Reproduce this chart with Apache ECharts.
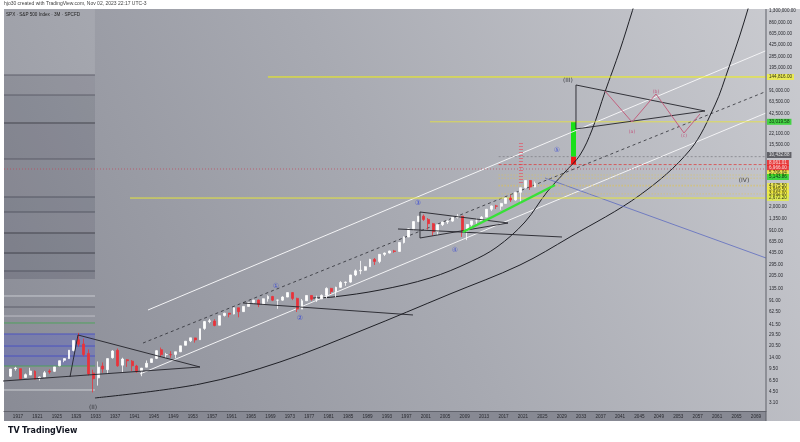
<!DOCTYPE html>
<html><head><meta charset="utf-8">
<script src="https://cdn.jsdelivr.net/npm/echarts@6/dist/echarts.min.js"></script>
<style>html,body{margin:0;padding:0;background:#fff}#c{width:800px;height:442px}</style>
</head><body><div id="c"></div>
<script>
// ---------- data ----------
const candleYears = [1915,1916,1917,1918,1919,1920,1921,1922,1923,1924,1925,1926,1927,1928,1929,1930,1931,1932,1933,1934,1935,1936,1937,1938,1939,1940,1941,1942,1943,1944,1945,1946,1947,1948,1949,1950,1951,1952,1953,1954,1955,1956,1957,1958,1959,1960,1961,1962,1963,1964,1965,1966,1967,1968,1969,1970,1971,1972,1973,1974,1975,1976,1977,1978,1979,1980,1981,1982,1983,1984,1985,1986,1987,1988,1989,1990,1991,1992,1993,1994,1995,1996,1997,1998,1999,2000,2001,2002,2003,2004,2005,2006,2007,2008,2009,2010,2011,2012,2013,2014,2015,2016,2017,2018,2019,2020,2021,2022,2023];
const opens = [7.5,9.6,9.6,7.2,7.8,8.8,7.1,7.3,8.9,8.8,10.6,12.7,13.4,17.5,24.9,21.7,15.9,8.3,7.1,10.5,9.3,13.8,17.6,10.8,12.9,12.3,10.5,8.9,10.1,11.8,13.5,18.0,15.2,15.3,15.4,16.8,20.8,24.1,26.5,25.0,36.3,45.5,46.2,40.3,55.6,59.9,58.4,71.6,63.1,75.0,84.8,92.4,80.3,96.5,103.9,92.1,92.2,102.1,118.1,97.6,68.6,90.2,107.5,95.1,96.1,107.9,135.8,122.6,140.6,164.9,167.2,211.3,242.2,247.1,277.7,353.4,330.2,417.1,435.7,466.5,459.3,615.9,740.7,970.4,1229.2,1469.3,1320.3,1148.1,879.8,1111.9,1211.9,1248.3,1418.3,1468.4,903.3,1115.1,1257.6,1257.6,1426.2,1848.4,2058.9,2043.9,2238.8,2673.6,2506.8,3230.8,3756.1,4766.2,3839.5];
const closes = [9.5,9.8,6.8,7.9,8.9,6.8,7.3,8.4,8.6,10.2,12.5,13.4,17.7,24.4,21.5,15.3,8.1,6.9,10.1,9.5,13.4,17.2,10.6,13.2,12.5,10.6,8.7,9.8,11.5,13.3,17.4,15.3,15.3,15.2,16.8,20.4,23.8,26.6,24.8,35.9,45.5,46.7,39.9,55.2,59.9,58.1,71.6,63.1,75.0,84.8,92.4,80.3,96.5,103.9,92.1,92.2,102.1,118.1,97.6,68.6,90.2,107.5,95.1,96.1,107.9,135.8,122.6,140.6,164.9,167.2,211.3,242.2,247.1,277.7,353.4,330.2,417.1,435.7,466.5,459.3,615.9,740.7,970.4,1229.2,1469.3,1320.3,1148.1,879.8,1111.9,1211.9,1248.3,1418.3,1468.4,903.3,1115.1,1257.6,1257.6,1426.2,1848.4,2058.9,2043.9,2238.8,2673.6,2506.8,3230.8,3756.1,4766.2,3839.5,4317.8];
const lows = [7.3,9.0,6.8,7.2,7.8,6.8,6.5,7.3,8.1,8.6,10.4,11.9,13.3,17.0,19.9,14.4,7.7,4.4,5.5,8.4,8.1,13.4,10.2,8.5,10.2,8.9,8.4,7.5,10.1,11.6,13.2,14.1,13.7,13.8,13.6,16.6,20.7,23.1,22.7,24.8,34.6,43.1,38.9,40.3,53.6,52.3,57.6,52.3,62.7,75.0,81.6,73.2,80.3,87.7,89.2,69.3,90.2,101.7,92.2,62.3,68.6,90.2,90.7,86.9,96.1,98.2,112.8,101.4,138.3,147.8,163.4,203.5,216.5,242.6,275.3,294.5,311.5,394.5,429.0,438.9,459.1,597.3,737.0,923.3,1205.5,1254.1,944.8,768.6,788.9,1060.7,1136.2,1219.3,1363.9,741.0,666.8,1010.9,1074.8,1257.6,1426.2,1737.9,1867.0,1810.1,2238.8,2346.6,2443.9,2191.9,3662.7,3491.6,3808.9];
const highs = [9.5,10.2,9.6,8.2,9.9,9.1,7.4,8.9,9.4,10.2,12.6,13.5,17.7,24.4,31.3,25.9,18.2,9.3,12.2,11.8,13.5,17.7,18.7,13.8,13.2,12.8,10.9,9.8,12.6,13.3,17.7,19.3,16.2,17.1,16.8,20.4,23.9,26.6,26.7,36.0,46.4,49.7,49.1,55.2,60.7,60.4,72.6,71.6,75.0,86.3,92.6,94.1,97.6,108.4,106.2,93.5,104.8,119.1,120.2,99.8,95.6,107.8,107.5,106.9,111.3,140.5,138.1,143.7,172.7,170.4,212.0,254.0,336.8,283.7,360.0,369.8,418.3,442.7,471.3,482.9,621.7,757.0,983.8,1244.9,1473.1,1552.9,1383.4,1176.9,1112.6,1217.3,1275.8,1431.8,1576.1,1471.8,1130.4,1262.6,1370.6,1474.5,1849.4,2093.6,2134.7,2277.5,2694.9,2940.9,3247.9,3760.2,4808.9,4818.6,4607.1];

const timeTicks = [1917,1921,1925,1929,1933,1937,1941,1945,1949,1953,1957,1961,1965,1969,1973,1977,1981,1985,1989,1993,1997,2001,2005,2009,2013,2017,2021,2025,2029,2033,2037,2041,2045,2049,2053,2057,2061,2065,2069];
const priceTicks = [3.10,4.50,6.50,9.50,14.00,20.50,29.50,41.50,62.50,91.00,135.00,205.00,295.00,435.00,635.00,910.00,1350.00,2000.00,15500.00,22100.00,42500.00,63500.00,91000.00,195000.00,285000.00,425000.00,605000.00,860000.00,1300000.00];

// left fib column levels (price)
const fibLevels = [154600,79930,31760,9685,2766,1687,844,436,241,105.7,73.5,54.6,43.4,30.2,20.3,14.6,10.5,4.76];
const fibBands = [[79930,154600],[31760,79930],[9685,31760],[2766,9685],[1687,2766],[844,1687],[436,844],[241,436],[185,241]];
const fibBlueBand = [10.5,30.2];
const fibFrom = 1914.12, fibTo = 1932.86;

// channels
const channelUpper = [[1943.78,66.6],[2071.07,344600]];
const channelMid = [[1942.75,22.4],[2071.07,89760]];
const channelLower = [[1942.13,8.07],[2071.07,44170]];
// arcs
const arcInner = [[1977.76,98.9],[1981.88,102.2],[1991.56,128.8],[2001.86,191.2],[2010.10,324.2],[2015.66,531.8],[2021.43,1213],[2025.96,3262],[2029.67,6310],[2032.76,11050],[2035.23,25200],[2037.90,88280],[2040.99,352700],[2043.47,1235000],[2044.09,1700000]];
const arcOuter = [[1932.86,3.66],[1954.49,5.80],[1970.96,11.98],[1988.06,34.4],[2005.98,112.9],[2020.40,293.8],[2030.70,739.6],[2045.12,2955],[2055.41,13035],[2060.56,57500],[2063.24,182400],[2065.71,578500],[2067.36,1363000],[2067.77,1700000]];
// triangles
const tri1 = [[[1913.9,6.40],[1954.49,10.16]],[[1929.36,29.2],[1954.49,10.16]],[[1927.71,7.31],[1929.36,29.2]]];
const tri2 = [[[1963.34,83.9],[1998.36,56.5]]];
const tri3 = [[[1999.80,1687],[1999.80,715.6]],[[1999.80,1687],[2017.93,1173]],[[1999.80,715.6],[2017.93,1173]],[[1995.27,962.9],[2029.05,739.6]]];
const triIII = [[[2031.93,111200],[2031.93,26060]],[[2031.93,111200],[2058.50,47180]],[[2031.93,26060],[2058.50,47180]]];
const pinkPath = [[2037.90,91240],[2043.47,32820],[2048.41,82640],[2054.18,22830],[2057.47,42730]];
const greenTrend = [[2008.66,872],[2027.61,4110]];
const blueLine = [[2025.55,5177],[2071.07,370]];
const fibLadder = [[2020.60,16420],[2020.60,4110]];
// position tool
const posGreen = [10432.88,33019.58];
const posRed = [8061.01,10432.88];
const posYears = [2030.90,2031.93];

// price levels with axis boxes
const levelPrices = [144816.00,33019.58,10432.88,8061.01,6966.00,5706.04,5143.86,4075.50,3969.50,3062.00,2672.20];
const levelFrom = [1968.49,2001.86,2016.0,2016.0,1914.12,2016.0,2016.0,2016.0,2016.0,2016.0,1940.07];
const labelAt = [144816,33019.58,11050,8490,7198,6100,5350,3972,3476,3080,2682];

// text labels
const waveLabels = [
  {t:'①',x:1970.14,y:147},{t:'②',x:1975.08,y:51.2},{t:'③',x:1999.39,y:2270},{t:'④',x:2007.01,y:481.7},{t:'⑤',x:2028.02,y:13035}
];
const bigLabels = [{t:'(II)',x:1932.45,y:2.72},{t:'(III)',x:2030.28,y:131140},{t:'(IV)',x:2066.54,y:4846}];
const pinkLabels = [{t:'(a)',x:2043.47,y:23600},{t:'(b)',x:2048.41,y:88280},{t:'(c)',x:2054.18,y:20680}];

// ---------- chart ----------
const xMin = 1914.12, xMax = 2071.07, yMin = 2.381, yMax = 1363000;
const FONT = 'Liberation Sans';
const chart = echarts.init(document.getElementById('c'), null, {renderer:'canvas'});

function seg(data, color, width, type, z, smooth) {
  return {type:'line', data, symbol:'none', showSymbol:false, smooth: smooth||false,
    lineStyle:{color, width, type: type||'solid'}, silent:true, animation:false, z: z||3, clip:true};
}
const series = [];
const candleData = candleYears.map((y,i)=>[y+0.5, opens[i], closes[i], lows[i], highs[i]]);

const markAreas = fibBands.map((b,i)=>[
  {xAxis:fibFrom, yAxis:b[0], itemStyle:{color:`rgba(55,58,75,${[0.06,0.13,0.16,0.11,0.17,0.14,0.19,0.17,0.21][i]})`}},
  {xAxis:fibTo, yAxis:b[1]}]);
markAreas.push([{xAxis:fibFrom, yAxis:154600, itemStyle:{color:'rgba(255,255,255,0.10)'}},{xAxis:fibTo, yAxis:yMax}]);
markAreas.push([{xAxis:fibFrom, yAxis:fibBlueBand[0], itemStyle:{color:'rgba(80,90,205,0.32)'}},{xAxis:fibTo, yAxis:fibBlueBand[1]}]);
markAreas.push([{xAxis:posYears[0], yAxis:posGreen[0], itemStyle:{color:'#19e019'}},{xAxis:posYears[1], yAxis:posGreen[1]}]);
markAreas.push([{xAxis:posYears[0], yAxis:posRed[0], itemStyle:{color:'#f01818'}},{xAxis:posYears[1], yAxis:posRed[1]}]);

series.push({type:'candlestick', data:candleData, encode:{x:0,y:[1,2,3,4]}, barWidth:2.4, z:5,
  itemStyle:{color:'#ffffff', color0:'#e8333b', borderColor:'#ffffff', borderColor0:'#e8333b', borderWidth:0.8},
  animation:false, silent:true,
  markArea:{silent:true, data:markAreas, z:1}
});

// fib column lines
const fibColors = ['#50525e','#50525e','#33343c','#50525e','#4a4c58','#4a4c58','#33343c','#33343c','#4a4c58','#d8d9de','#50525e','#c9cad0','#3fa64d','#3f47c8','#3f47c8','#3f47c8','#3fa64d','#e0e1e5'];
fibLevels.forEach((p,i)=>series.push(seg([[fibFrom,p],[fibTo,p]], fibColors[i], 0.8, 'solid', 2)));

series.push(seg(channelUpper,'#f4f4f6',1,'solid',3));
series.push(seg(channelMid,'#2c2d33',0.8,[3,3],3));
series.push(seg(channelLower,'#f4f4f6',1,'solid',3));
series.push(seg(arcInner,'#1f2026',1,'solid',3,0.35));
series.push(seg(arcOuter,'#1f2026',1,'solid',3,0.35));
[...tri1,...tri2,...tri3,...triIII].forEach(s=>series.push(seg(s,'#222329',0.9,'solid',6)));
series.push(seg(pinkPath,'#c2607e',1,'solid',6));
series.push(seg(greenTrend,'#37e137',2.5,'solid',6));
series.push(seg(blueLine,'#5060c0',0.7,'solid',3));
series.push(seg(fibLadder,'#d7707e',4,[1,2],4));

// levels
const levelStyle = [
  {c:'#f1f10f',w:1,t:'solid',bg:'#f1f13a',fc:'#000'},
  {c:'#e7e43a',w:0.8,t:'solid',bg:'#22d422',fc:'#000'},
  {c:'#7a7a80',w:0.7,t:[2,2],bg:'#47474d',fc:'#fff'},
  {c:'#e03030',w:0.7,t:[3,2],bg:'#f01c1c',fc:'#fff'},
  {c:'#c04458',w:0.7,t:[1,2],bg:'#f01c1c',fc:'#fff'},
  {c:'#e8c640',w:0.7,t:[1,2],bg:'#f2ee3a',fc:'#000'},
  {c:'#e8c640',w:0.7,t:[1,2],bg:'#1ed81e',fc:'#000'},
  {c:'#e8c640',w:0.7,t:[1,2],bg:'#f2ee3a',fc:'#000'},
  {c:'#e8c640',w:0.7,t:[1,2],bg:'#f2ee3a',fc:'#000'},
  {c:'#e8c640',w:0.7,t:[1,2],bg:'#f2ee3a',fc:'#000'},
  {c:'#e5e53c',w:1,t:'solid',bg:'#e4f03a',fc:'#000'}
];
levelPrices.forEach((p,i)=>series.push(seg([[levelFrom[i],p],[xMax,p]], levelStyle[i].c, levelStyle[i].w, levelStyle[i].t, 4)));
const fmt = v => Number(v).toLocaleString('en-US',{minimumFractionDigits:2, maximumFractionDigits:2});
series.push({type:'scatter', symbolSize:0, silent:true, animation:false, clip:false, z:20,
  data: levelPrices.map((p,i)=>({value:[xMax, labelAt[i]], label:{show:true, position:'right', distance:1, formatter: fmt(p),
    backgroundColor: levelStyle[i].bg, color: levelStyle[i].fc, fontSize:4.6, fontFamily:FONT, padding:[1,2,0,2]}}))
});
// texts
function textSeries(arr, color, size, weight) {
  return {type:'scatter', symbolSize:0, silent:true, animation:false, z:15,
    data: arr.map(d=>({value:[d.x,d.y], label:{show:true, position:'inside', formatter:d.t, color, fontSize:size, fontFamily:'DejaVu Sans', fontWeight:weight||'normal'}}))};
}
series.push(textSeries(waveLabels,'#2d3fd8',7));
series.push(textSeries(bigLabels,'#1e1f24',6));
series.push(textSeries(pinkLabels,'#c2406e',4.5));

const option = {
  backgroundColor:'#ffffff',
  animation:false,
  textStyle:{fontFamily:FONT},
  graphic:[
    {type:'rect', shape:{x:4,y:9,width:796,height:412}, z:-10, silent:true,
     style:{fill:new echarts.graphic.LinearGradient(0,1,1,0,[{offset:0,color:'#898b95'},{offset:0.5,color:'#a8aab2'},{offset:1,color:'#cbccd1'}])}},
    {type:'rect', shape:{x:4,y:411,width:762,height:10}, z:-9, silent:true, style:{fill:'#878993'}},
    {type:'line', shape:{x1:766,y1:9,x2:766,y2:421}, z:10, silent:true, style:{stroke:'#5e6069',lineWidth:1}},
    {type:'text', left:4, top:1, silent:true, style:{text:'hjo30 created with TradingView.com, Nov 02, 2023 22:17 UTC-3', fill:'#444', fontSize:5, fontFamily:FONT}},
    {type:'text', left:6, top:12, silent:true, z:20, style:{text:'SPX · S&P 500 Index · 3M · SPCFD', fill:'#222', fontSize:4.6, fontFamily:FONT}},
    {type:'text', left:8, top:427, silent:true, style:{text:'TV', fill:'#131722', fontSize:8, fontWeight:'bold', fontFamily:'DejaVu Sans'}},
    {type:'text', left:22, top:427, silent:true, style:{text:'TradingView', fill:'#131722', fontSize:8, fontWeight:'bold', fontFamily:'DejaVu Sans'}}
  ],
  grid:{left:4, right:34, top:9, bottom:31, containLabel:false},
  xAxis:{type:'value', min:xMin, max:xMax, splitLine:{show:false},
    axisLine:{show:true, lineStyle:{color:'#60626b', width:1}}, axisTick:{show:false},
    axisLabel:{customValues:timeTicks, color:'#2a2b31', fontSize:4.6, fontFamily:FONT, margin:3, formatter: v=>String(v)}},
  yAxis:{type:'log', logBase:10, position:'right', min:yMin, max:yMax, splitLine:{show:false},
    axisLine:{show:false}, axisTick:{show:false},
    axisLabel:{customValues:priceTicks, color:'#2a2b31', fontSize:4.6, fontFamily:FONT, margin:3, formatter: fmt}},
  series
};
chart.setOption(option);
</script>
</body></html>
